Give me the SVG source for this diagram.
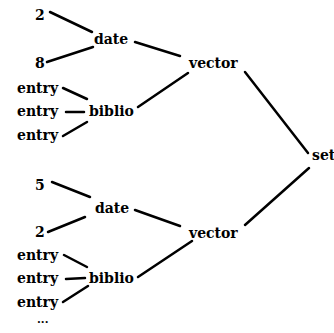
<svg xmlns="http://www.w3.org/2000/svg" width="334" height="333" viewBox="0 0 334 333">
<style>
text{font-family:"DejaVu Serif","Liberation Serif",serif;font-weight:bold;font-size:14px;fill:#000}
.e line{stroke:#000;stroke-width:2.5;stroke-linecap:round}
</style>
<rect width="334" height="333" fill="#fff"/>
<g class="e" id="connectors">
<line x1="50" y1="12" x2="92" y2="32"/>
<line x1="47" y1="62" x2="93" y2="47"/>
<line x1="135" y1="42" x2="180" y2="56"/>
<line x1="63" y1="88" x2="87" y2="99"/>
<line x1="66" y1="112" x2="84" y2="112"/>
<line x1="63" y1="136" x2="87" y2="122"/>
<line x1="138" y1="107" x2="188" y2="73"/>
<line x1="245" y1="72" x2="308" y2="153"/>
<line x1="309" y1="168" x2="245" y2="225"/>
<line x1="52" y1="182" x2="90" y2="197"/>
<line x1="48" y1="232" x2="85" y2="217"/>
<line x1="135" y1="210" x2="180" y2="226"/>
<line x1="64" y1="255" x2="87" y2="267"/>
<line x1="66" y1="279" x2="85" y2="278"/>
<line x1="63" y1="302" x2="88" y2="286"/>
<line x1="138" y1="277" x2="192" y2="241"/>
</g>
<g id="n2a"><text x="35" y="20">2</text></g>
<g id="date1"><text x="94" y="44">date</text></g>
<g id="n8"><text x="35" y="68">8</text></g>
<g id="vector1"><text x="189" y="68">vector</text></g>
<g id="entry1"><text x="17" y="93">entry</text></g>
<g id="entry2"><text x="17" y="116">entry</text></g>
<g id="entry3"><text x="17" y="140">entry</text></g>
<g id="biblio1"><text x="89" y="116">biblio</text></g>
<g id="set"><text x="312" y="160">set</text></g>
<g id="n5"><text x="35" y="190">5</text></g>
<g id="date2"><text x="95" y="213">date</text></g>
<g id="n2b"><text x="35" y="237">2</text></g>
<g id="vector2"><text x="189" y="238">vector</text></g>
<g id="entry4"><text x="17" y="260">entry</text></g>
<g id="entry5"><text x="17" y="283">entry</text></g>
<g id="entry6"><text x="17" y="307">entry</text></g>
<g id="biblio2"><text x="89" y="283">biblio</text></g>
<g id="more"><text x="37" y="323" style="font-size:11px">...</text></g>
</svg>
